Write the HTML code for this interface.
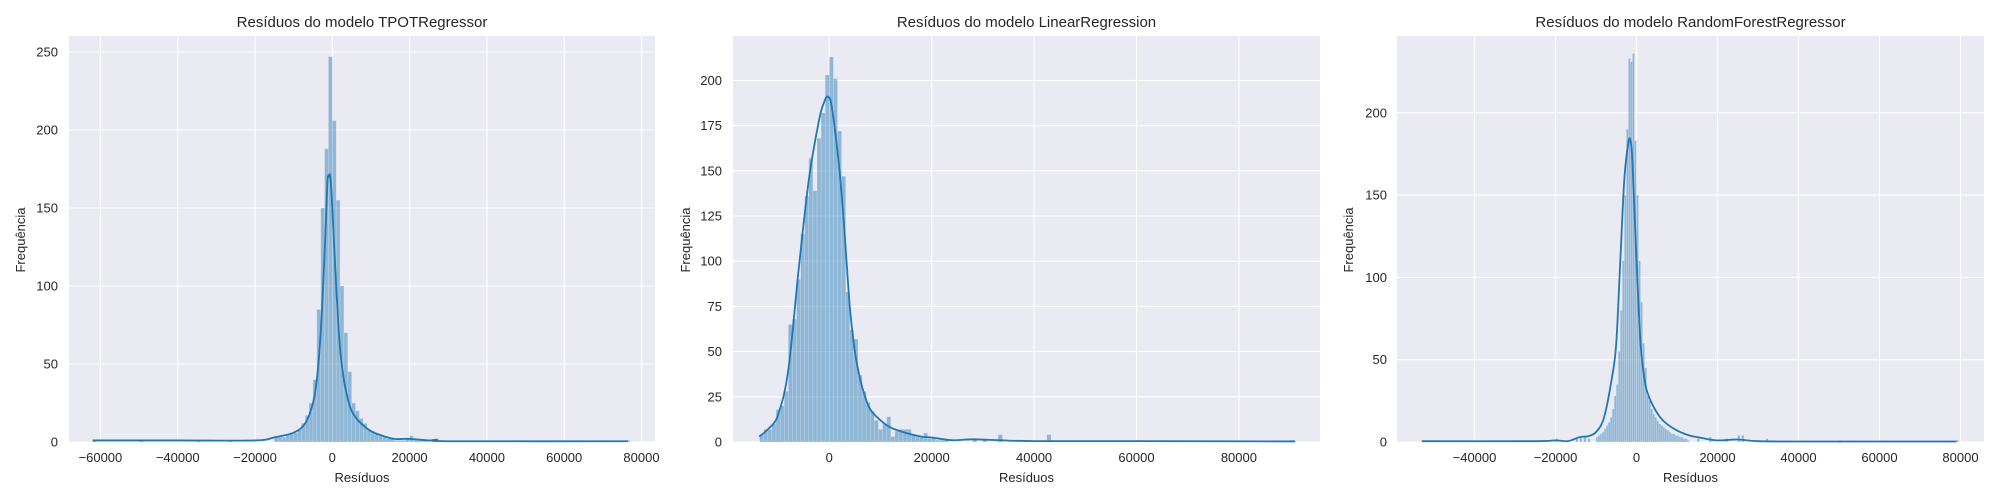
<!DOCTYPE html>
<html><head><meta charset="utf-8">
<style>
html,body{margin:0;padding:0;background:#fff;}
svg{display:block;font-family:"Liberation Sans",Arial,sans-serif;}
</style></head>
<body>
<svg id="fig" width="2000" height="500" viewBox="0 0 2000 500" xmlns="http://www.w3.org/2000/svg"></svg>
<script>
// ---------- Panel 1: TPOTRegressor ----------
const p1BinStart = -15000;
const p1BinWidth = 1000;
const p1Counts = [3,4,3,5,5, 6,8,12,17,25, 40,85,150,188,247, 206,155,100,70,45, 25,20,15,12,8, 7,5,4,3,2, 2,1,1,1,2, 4,2,1,1,1];
const p1OutX = [-62000,-50000,-35000,-27000,26500,49000,60000,76000];
const p1OutY = [1,1,1,1,2,1,1,1];
const p1KdeX = [-62000,-40000,-20000,-15000,-10000,-7000,-5000,-4000,-3000,-2000,-1300,-1000,-500,0,1000,2000,3000,4000,5000,7000,10000,13000,16000,20000,25000,27000,30000,76500];
const p1KdeY = [1,1,1,3,6,12,25,40,70,120,165,170,170,150,100,60,40,28,20,13,7,4,2,2,1,1.5,0.5,0.5];
const p1XTicks = [-60000,-40000,-20000,0,20000,40000,60000,80000];
const p1YTicks = [0,50,100,150,200,250];

// ---------- Panel 2: LinearRegression ----------
const p2BinStart = -13600;
const p2BinWidth = 800;
const p2Counts = [4,7,7,10,18,20,28,65,68,90,115,136,157,139,168,182,203,213,201,172,147,83,62,57,37,28,22,17,12,7,10,14,3,6,7,7,7,4,3,3,5,2,2,1,1,1];
const p2OutX = [28000,30000,33000,42500,60000,90000];
const p2OutY = [2,1,4,4,1,1];
const p2KdeX = [-13700,-12000,-10000,-8000,-6000,-4000,-2000,-1000,-300,500,2000,3000,4000,5000,6000,7000,8000,10000,12000,15000,18000,20000,24000,28000,33000,40000,60000,91000];
const p2KdeY = [3,7,15,40,95,145,178,188,191,185,150,115,75,50,35,25,18,12,8,5,3,2.5,1,1.5,1,0.5,0.5,0.3];
const p2XTicks = [0,20000,40000,60000,80000];
const p2YTicks = [0,25,50,75,100,125,150,175,200];

// ---------- Panel 3: RandomForestRegressor ----------
const p3BinStart = -10000;
const p3BinWidth = 500;
const p3Counts = [3,4,5,6,8,10,12,15,20,28,35,55,80,110,150,190,233,231,236,183,150,110,85,60,45,28,25,20,17,15,13,11,10,9,8,7,6,5,5,4,4,3,3,2,2,1];
const p3OutX = [-53000,-20000,-15000,-14000,-13000,-12000,15000,18000,22000,25000,26000,32000,50000,79000];
const p3OutY = [1,2,3,3,3,2,2,3,2,4,4,2,1,1];
const p3KdeX = [-53000,-25000,-20000,-17000,-14000,-12000,-10000,-8000,-6000,-5000,-4000,-3000,-2000,-1500,-1000,0,1000,2000,3000,5000,7000,10000,13000,16000,20000,25000,30000,40000,79000];
const p3KdeY = [0.5,0.5,1,0.5,3,3.5,6,15,40,60,110,160,182,183,170,110,60,38,28,18,12,7,4,2.5,1,1.5,0.5,0.3,0.3];
const p3XTicks = [-40000,-20000,0,20000,40000,60000,80000];
const p3YTicks = [0,50,100,150,200];

const NS = "http://www.w3.org/2000/svg";
const svg = document.getElementById('fig');
function mk(tag, attrs, parent){
  const e = document.createElementNS(NS, tag);
  for (const k in attrs) e.setAttribute(k, attrs[k]);
  (parent||svg).appendChild(e);
  return e;
}
function fmt(v){ return v<0 ? "\u2212"+Math.abs(v) : String(v); }

function panel(cfg){
  const g = mk('g', {});
  
  
  const L=cfg.left, R=cfg.right, T=36, B=442;
  const sx = v => cfg.x0px + (v)*cfg.pxPer1000/1000;
  const sy = v => B - v*cfg.pxPerUnit;
  const bg = mk('rect', {x:L, y:T, width:R-L, height:B-T, fill:'#eaeaf2'}, g);
  
  
  cfg.xTicks.forEach(t=>{
    const x=sx(t);
    const ln = mk('line',{x1:x,x2:x,y1:T,y2:B,stroke:'#fff','stroke-width':1.1},g);
    
    
    const tx = mk('text',{x:x,y:462,'font-size':13,fill:'#262626','text-anchor':'middle'},g);
    tx.textContent = fmt(t);
    
    
  });
  cfg.yTicks.forEach(t=>{
    const y=sy(t);
    const ln = mk('line',{x1:L,x2:R,y1:y,y2:y,stroke:'#fff','stroke-width':1.1},g);
    
    
    const tx = mk('text',{x:cfg.yLabelRight,y:y+4.5,'font-size':13,fill:'#262626','text-anchor':'end'},g);
    tx.textContent = String(t);
    
    
  });
  const bw = cfg.binWidth*cfg.pxPer1000/1000;
  cfg.counts.forEach((c,i)=>{
    const x = sx(cfg.binStart + i*cfg.binWidth);
    const b = mk('rect',{x:x,y:sy(c),width:Math.max(bw,0.8),height:c*cfg.pxPerUnit,fill:'rgba(31,119,180,0.45)',stroke:'rgba(234,234,242,0.5)','stroke-width':0.5},g);
    
    
  });
  cfg.outX.forEach((v,i)=>{
    const b = mk('rect',{x:sx(v),y:sy(cfg.outY[i]),width:Math.max(bw,1.2),height:cfg.outY[i]*cfg.pxPerUnit,fill:'rgba(31,119,180,0.45)'},g);
    
    
  });
  const pts = cfg.kdeX.map((v,i)=>[sx(v),sy(cfg.kdeY[i])]);
  let d = 'M'+pts[0][0]+','+pts[0][1];
  for (let i=1;i<pts.length;i++){
    const p0=pts[Math.max(i-2,0)],p1=pts[i-1],p2=pts[i],p3=pts[Math.min(i+1,pts.length-1)];
    const c1x=p1[0]+(p2[0]-p0[0])/6, c1y=p1[1]+(p2[1]-p0[1])/6;
    const c2x=p2[0]-(p3[0]-p1[0])/6, c2y=p2[1]-(p3[1]-p1[1])/6;
    d+=' C'+c1x+','+c1y+' '+c2x+','+c2y+' '+p2[0]+','+p2[1];
  }
  const k = mk('path',{d:d,fill:'none',stroke:'#1f77b4','stroke-width':1.8,'stroke-linejoin':'round'},g);
  
  
  const ti = mk('text',{x:(L+R)/2,y:27,'font-size':15,fill:'#262626','text-anchor':'middle'},g);
  ti.textContent = cfg.title;
  
  
  const xl = mk('text',{x:(L+R)/2,y:482,'font-size':13,fill:'#262626','text-anchor':'middle'},g);
  xl.textContent = 'Resíduos';
  
  
  const yl = mk('text',{x:0,y:0,'font-size':13,fill:'#262626','text-anchor':'middle',transform:'translate('+cfg.yTitleX+',240) rotate(-90)'},g);
  yl.textContent = 'Frequência';
  
  
}

panel({name:'panel-tpot',title:'Resíduos do modelo TPOTRegressor',left:69,right:655,x0px:332.3,pxPer1000:3.865,pxPerUnit:1.56,
  yLabelRight:58,yTitleX:25,xTicks:p1XTicks,yTicks:p1YTicks,binStart:p1BinStart,binWidth:p1BinWidth,counts:p1Counts,outX:p1OutX,outY:p1OutY,kdeX:p1KdeX,kdeY:p1KdeY});
panel({name:'panel-linear',title:'Resíduos do modelo LinearRegression',left:733,right:1320,x0px:829.3,pxPer1000:5.12,pxPerUnit:1.808,
  yLabelRight:722,yTitleX:690,xTicks:p2XTicks,yTicks:p2YTicks,binStart:p2BinStart,binWidth:p2BinWidth,counts:p2Counts,outX:p2OutX,outY:p2OutY,kdeX:p2KdeX,kdeY:p2KdeY});
panel({name:'panel-randomforest',title:'Resíduos do modelo RandomForestRegressor',left:1397,right:1984,x0px:1636.5,pxPer1000:4.05,pxPerUnit:1.646,
  yLabelRight:1387,yTitleX:1353,xTicks:p3XTicks,yTicks:p3YTicks,binStart:p3BinStart,binWidth:p3BinWidth,counts:p3Counts,outX:p3OutX,outY:p3OutY,kdeX:p3KdeX,kdeY:p3KdeY});
</script>
</body></html>
